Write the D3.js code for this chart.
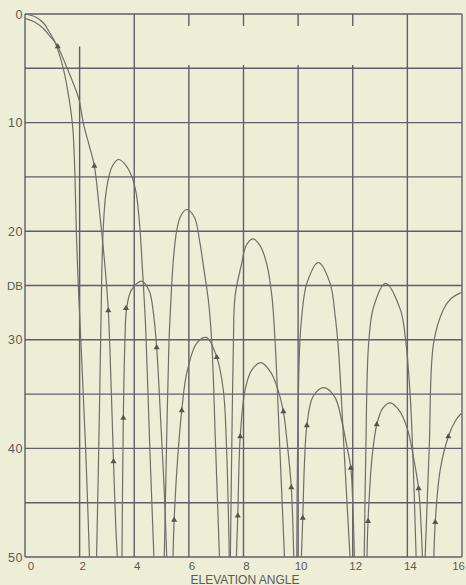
<!DOCTYPE html>
<html>
<head>
<meta charset="utf-8">
<script src="https://cdn.jsdelivr.net/npm/d3@7"></script>
<style>
  body { margin: 0; background: #eeeed6; }
  svg { display: block; }
</style>
</head>
<body>
<svg id="chart" width="466" height="585"></svg>
<script>
// axis ticks
var angleTicks = [0, 2, 4, 6, 8, 10, 12, 14, 16];
var dbGrid = [0, 5, 10, 15, 20, 25, 30, 35, 40, 45, 50];
var dbLabels = [0, 10, 20, 30, 40, 50];

// upper pattern, one array per lobe: [elevation angle, db down]
var upperMain = [[0,0],[0.4,0.3],[0.7,0.9],[0.9,1.7],[1.1,2.6],[1.4,5],[1.62,7.9],[1.75,10.5],[1.83,15],[1.88,20],[1.95,25],[2.08,32],[2.22,40],[2.36,50]];
var upperL2 = [[2.62,50],[2.7,40],[2.77,30],[2.81,24],[2.86,20],[2.94,17],[3.05,15.2],[3.2,14],[3.42,13.4],[3.65,13.8],[3.9,14.9],[4.07,16.5],[4.2,19.5],[4.3,23.5],[4.42,29],[4.57,40],[4.72,50]];
var upperL3 = [[5.1,50],[5.18,40],[5.27,30.3],[5.33,27],[5.42,23],[5.55,20],[5.7,18.6],[5.92,18],[6.2,18.7],[6.4,21],[6.55,23.5],[6.72,26.5],[6.84,30.3],[6.98,40],[7.12,50]];
var upperL4 = [[7.52,50],[7.57,40],[7.63,30.3],[7.69,26],[7.93,23],[8.1,21.3],[8.34,20.7],[8.6,21.3],[8.85,23],[9.04,26],[9.16,30.3],[9.33,40],[9.5,50]];
var upperL5 = [[9.95,50],[9.98,40],[10.05,31],[10.13,27.9],[10.32,24.8],[10.74,22.9],[11.17,24.8],[11.36,27.9],[11.48,31],[11.68,40],[11.9,50]];
var upperL6 = [[12.42,50],[12.48,40],[12.58,30.4],[12.76,27],[13.2,24.8],[13.74,27.2],[13.92,29.7],[14.1,35],[14.22,42],[14.32,50]];
var upperL7 = [[14.65,50],[14.8,40],[14.96,30.3],[15.32,27.2],[15.6,26.2],[15.93,25.7],[16.1,25.6]];

// lower pattern
var lowerMain = [[0,0.4],[0.4,0.8],[0.7,1.4],[0.9,2.0],[1.1,2.6],[1.2,3.0],[1.53,4.9],[1.77,6.4],[1.98,7.9],[2.14,10.1],[2.36,12.2],[2.54,14],[2.75,18.7],[2.92,23],[3.05,27.3],[3.15,34],[3.24,41.2],[3.32,47],[3.38,50]];
var lowerL2 = [[3.55,50],[3.6,37.2],[3.66,30],[3.72,27.1],[3.9,25.4],[4.27,24.6],[4.55,25.5],[4.7,27.5],[4.82,30.7],[4.98,38],[5.1,44],[5.19,50]];
var lowerL3 = [[5.42,50],[5.46,46.6],[5.6,40.5],[5.74,36.5],[5.92,33.1],[6.29,30.3],[6.65,29.8],[7.02,31.6],[7.26,34.6],[7.38,40],[7.48,50]];
var lowerL4 = [[7.74,50],[7.79,46.2],[7.88,38.9],[8.06,34.6],[8.3,32.8],[8.64,32.1],[9.0,33],[9.25,34.5],[9.46,36.6],[9.62,40],[9.75,43.6],[9.84,50]];
var lowerL5 = [[10.12,50],[10.17,46.4],[10.23,41.5],[10.32,37.9],[10.55,35.2],[10.95,34.4],[11.35,35.3],[11.6,37.5],[11.8,40],[11.93,41.8],[12.0,45],[12.06,50]];
var lowerL6 = [[12.52,50],[12.56,46.7],[12.7,41],[12.88,37.8],[13.1,36.3],[13.37,35.8],[13.7,36.5],[14.0,38.2],[14.2,40.5],[14.41,43.7],[14.5,47],[14.55,50]];
var lowerL7 = [[14.97,50],[15.02,46.8],[15.2,42],[15.5,38.9],[15.75,37.5],[15.93,36.9],[16.1,36.6]];

// computed points (triangles)
var computedPoints = [[1.2,3.0],[2.54,14.0],[3.05,27.3],[3.24,41.2],[3.6,37.2],[3.7,27.1],[4.82,30.7],[5.46,46.6],[5.74,36.5],[7.02,31.6],[7.79,46.2],[7.88,38.9],[9.46,36.6],[9.75,43.6],[10.17,46.4],[10.32,37.9],[11.93,41.8],[12.56,46.7],[12.88,37.8],[14.41,43.7],[15.02,46.8],[15.5,38.9]];

var upperLobes = [upperMain, upperL2, upperL3, upperL4, upperL5, upperL6, upperL7];
var lowerLobes = [lowerMain, lowerL2, lowerL3, lowerL4, lowerL5, lowerL6, lowerL7];

var svg = d3.select("#chart");
var x = d3.scaleLinear().domain([0, 16]).range([25, 462]);
var y = d3.scaleLinear().domain([0, 50]).range([14, 557]);

var gridColor = "#5e5e6c";
var curveColor = "#6e6e6a";
var textColor = "#5a5a58";

svg.append("rect").attr("width", 466).attr("height", 585).attr("fill", "#eeeed6");

// clip for curves
svg.append("clipPath").attr("id", "plot")
  .append("rect")
  .attr("x", x(0)).attr("y", y(0))
  .attr("width", x(16) - x(0)).attr("height", y(50) - y(0));

// horizontal grid
svg.append("g").selectAll("line")
  .data(dbGrid).enter().append("line")
  .attr("x1", x(0)).attr("x2", x(16))
  .attr("y1", d => y(d)).attr("y2", d => y(d))
  .attr("stroke", gridColor).attr("stroke-width", 1.4);

// vertical grid (some lines start below the top row, with a short tick at top)
var gridStart = function(d) {
  if (d == 2) return 3;
  if (d >= 6 && d <= 12) return 4.7;
  return 0;
};
var vg = svg.append("g");
vg.selectAll("line.v")
  .data(angleTicks).enter().append("line")
  .attr("class", "v")
  .attr("x1", d => x(d)).attr("x2", d => x(d))
  .attr("y1", d => y(gridStart(d))).attr("y2", y(50))
  .attr("stroke", gridColor).attr("stroke-width", 1.4);
vg.selectAll("line.t")
  .data(angleTicks.filter(d => gridStart(d) > 4)).enter().append("line")
  .attr("class", "t")
  .attr("x1", d => x(d)).attr("x2", d => x(d))
  .attr("y1", y(0)).attr("y2", y(1.1))
  .attr("stroke", gridColor).attr("stroke-width", 1.4);

// curves
var line = d3.line()
  .x(d => x(d[0]))
  .y(d => y(d[1]))
  .curve(d3.curveCatmullRom.alpha(0.5));

var curves = svg.append("g").attr("clip-path", "url(#plot)");
curves.selectAll("path.upper")
  .data(upperLobes).enter().append("path")
  .attr("class", "upper")
  .attr("d", line)
  .attr("fill", "none")
  .attr("stroke", curveColor)
  .attr("stroke-width", 1.2);
curves.selectAll("path.lower")
  .data(lowerLobes).enter().append("path")
  .attr("class", "lower")
  .attr("d", line)
  .attr("fill", "none")
  .attr("stroke", curveColor)
  .attr("stroke-width", 1.2);

// triangles
svg.append("g").selectAll("path")
  .data(computedPoints).enter().append("path")
  .attr("d", d3.symbol().type(d3.symbolTriangle).size(16))
  .attr("transform", d => "translate(" + x(d[0]) + "," + y(d[1]) + ")")
  .attr("fill", "#55554f");

// left labels
var labels = svg.append("g")
  .attr("font-family", "Liberation Sans, Arial, sans-serif")
  .attr("fill", textColor);
labels.selectAll("text.db")
  .data(dbLabels).enter().append("text")
  .attr("class", "db")
  .attr("x", 23)
  .attr("y", d => y(d) + 4.5)
  .attr("text-anchor", "end")
  .attr("font-size", 12.5)
  .attr("letter-spacing", 0.5)
  .text(d => d);
labels.append("text")
  .attr("x", 23).attr("y", y(25) + 4.5)
  .attr("text-anchor", "end")
  .attr("font-size", 11.5)
  .text("DB");

// bottom labels
labels.selectAll("text.ang")
  .data(angleTicks).enter().append("text")
  .attr("class", "ang")
  .attr("x", d => d == 16 ? 465 : x(d) + (d == 0 ? 6 : 3))
  .attr("y", 570)
  .attr("text-anchor", d => d == 16 ? "end" : "middle")
  .attr("font-size", 11.5)
  .text(d => d);
labels.append("text")
  .attr("x", 245).attr("y", 583.5)
  .attr("text-anchor", "middle")
  .attr("font-size", 12)
  .text("ELEVATION ANGLE");
</script>
</body>
</html>
